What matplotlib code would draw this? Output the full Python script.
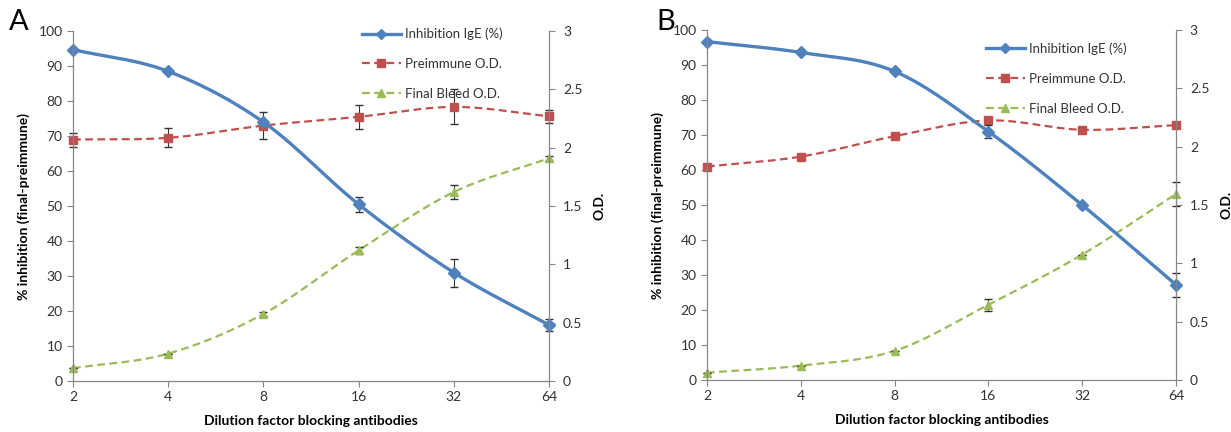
import matplotlib.pyplot as plt
import numpy as np

# dilution factors (category axis)
dilution = ["2", "4", "8", "16", "32", "64"]

# Panel A
a_inhib = [94.7, 88.5, 74.0, 50.5, 31.0, 16.0]
a_inhib_err = [0, 0, 0, 2.2, 4.0, 1.7]
a_pre = [2.07, 2.085, 2.19, 2.265, 2.35, 2.27]
a_pre_err = [0.06, 0.08, 0.115, 0.105, 0.15, 0.055]
a_final = [0.11, 0.235, 0.575, 1.12, 1.62, 1.91]
a_final_err = [0, 0, 0.02, 0.03, 0.06, 0.02]

# Panel B
b_inhib = [96.7, 93.6, 88.2, 71.0, 50.0, 27.2]
b_inhib_err = [0, 0, 0, 1.8, 0, 3.5]
b_pre = [1.83, 1.915, 2.09, 2.225, 2.145, 2.185]
b_pre_err = [0, 0, 0, 0, 0, 0]
b_final = [0.063, 0.123, 0.25, 0.645, 1.075, 1.595]
b_final_err = [0, 0, 0, 0.05, 0, 0.1]

BLUE = "#4F81BD"
RED = "#C0504D"
GREEN = "#9BBB59"
GREY = "#868686"

plt.rcParams['font.family'] = ['Lato', 'DejaVu Sans']


def smooth(x, y, n=30):
    # Excel-style smoothed line (Catmull-Rom through the points)
    x = np.asarray(x, float)
    y = np.asarray(y, float)
    px = np.concatenate([[2 * x[0] - x[1]], x, [2 * x[-1] - x[-2]]])
    py = np.concatenate([[2 * y[0] - y[1]], y, [2 * y[-1] - y[-2]]])
    xs, ys = [], []
    t = np.linspace(0, 1, n)
    for i in range(1, len(px) - 2):
        for p, out in ((px, xs), (py, ys)):
            p0, p1, p2, p3 = p[i - 1], p[i], p[i + 1], p[i + 2]
            out.append(0.5 * (2 * p1 + (-p0 + p2) * t
                              + (2 * p0 - 5 * p1 + 4 * p2 - p3) * t ** 2
                              + (-p0 + 3 * p1 - 3 * p2 + p3) * t ** 3))
    return np.concatenate(xs), np.concatenate(ys)


def panel(fig, rect, letter, letter_xy, inhib, inhib_err, pre, pre_err, final, final_err, leg_anchor):
    ax = fig.add_axes(rect)
    ax2 = ax.twinx()
    x = np.arange(len(dilution))

    for a in (ax, ax2):
        a.spines["top"].set_visible(False)
        for s in ("left", "right", "bottom"):
            a.spines[s].set_color(GREY)
        a.tick_params(colors=GREY, labelcolor="#333333", labelsize=10, length=4)
    ax2.tick_params(pad=6)

    dash = (0, (3.5, 2))
    # secondary axis series
    sx, sy = smooth(x, pre)
    ax2.plot(sx, sy, color=RED, lw=1.6, ls=dash)
    ax2.errorbar(x, pre, yerr=pre_err, fmt="none", ecolor="#333333", elinewidth=0.8,
                 capsize=3, clip_on=False)
    ax2.plot(x, pre, "s", color=RED, ms=6, clip_on=False)
    sx, sy = smooth(x, final)
    ax2.plot(sx, sy, color=GREEN, lw=1.6, ls=dash)
    ax2.errorbar(x, final, yerr=final_err, fmt="none", ecolor="#333333", elinewidth=0.8,
                 capsize=3, clip_on=False)
    ax2.plot(x, final, "^", color=GREEN, ms=6, clip_on=False)

    # primary axis series drawn on top
    ax.set_zorder(ax2.get_zorder() + 1)
    ax.patch.set_visible(False)
    sx, sy = smooth(x, inhib)
    ax.plot(sx, sy, color=BLUE, lw=2.4)
    ax.errorbar(x, inhib, yerr=inhib_err, fmt="none", ecolor="#333333", elinewidth=0.8,
                capsize=3, clip_on=False)
    ax.plot(x, inhib, "D", color=BLUE, ms=6, clip_on=False)

    h1, = ax.plot([], [], color=BLUE, lw=2.4, marker="D", ms=5)
    h2, = ax.plot([], [], color=RED, lw=1.6, ls=dash, marker="s", ms=6)
    h3, = ax.plot([], [], color=GREEN, lw=1.6, ls=dash, marker="^", ms=6)
    ax.legend([h1, h2, h3], ["Inhibition IgE (%)", "Preimmune O.D.", "Final Bleed O.D."],
              loc="upper left", bbox_to_anchor=leg_anchor, frameon=False, fontsize=9.5,
              handlelength=3.0, labelspacing=1.35, handletextpad=0.3, borderaxespad=0,
              labelcolor="#333333")

    ax.set_xlim(0, len(dilution) - 1)
    ax.set_xticks(x)
    ax.set_xticklabels(dilution)
    ax.set_ylim(0, 100)
    ax.set_yticks(np.arange(0, 101, 10))
    ax2.set_ylim(0, 3)
    ax2.set_yticks([0, 0.5, 1, 1.5, 2, 2.5, 3])
    ax2.set_yticklabels(["0", "0.5", "1", "1.5", "2", "2.5", "3"])

    ax.set_xlabel("Dilution factor blocking antibodies", fontsize=10, fontweight="bold", labelpad=8)
    ax.set_ylabel("% inhibition (final-preimmune)", fontsize=10, fontweight="bold", labelpad=6)
    ax2.set_ylabel("O.D.", fontsize=10, fontweight="bold", labelpad=8)
    fig.text(letter_xy[0], letter_xy[1], letter, fontsize=21, va="center")


fig = plt.figure(figsize=(12.31, 4.32), dpi=100)
panel(fig, [0.0593, 0.118, 0.3867, 0.810], "A", (0.007, 0.95),
      a_inhib, a_inhib_err, a_pre, a_pre_err, a_final, a_final_err, (0.595, 1.025))
panel(fig, [0.5743, 0.1204, 0.381, 0.810], "B", (0.533, 0.95),
      b_inhib, b_inhib_err, b_pre, b_pre_err, b_final, b_final_err, (0.583, 0.98))

fig.savefig("out.png", dpi=100)
